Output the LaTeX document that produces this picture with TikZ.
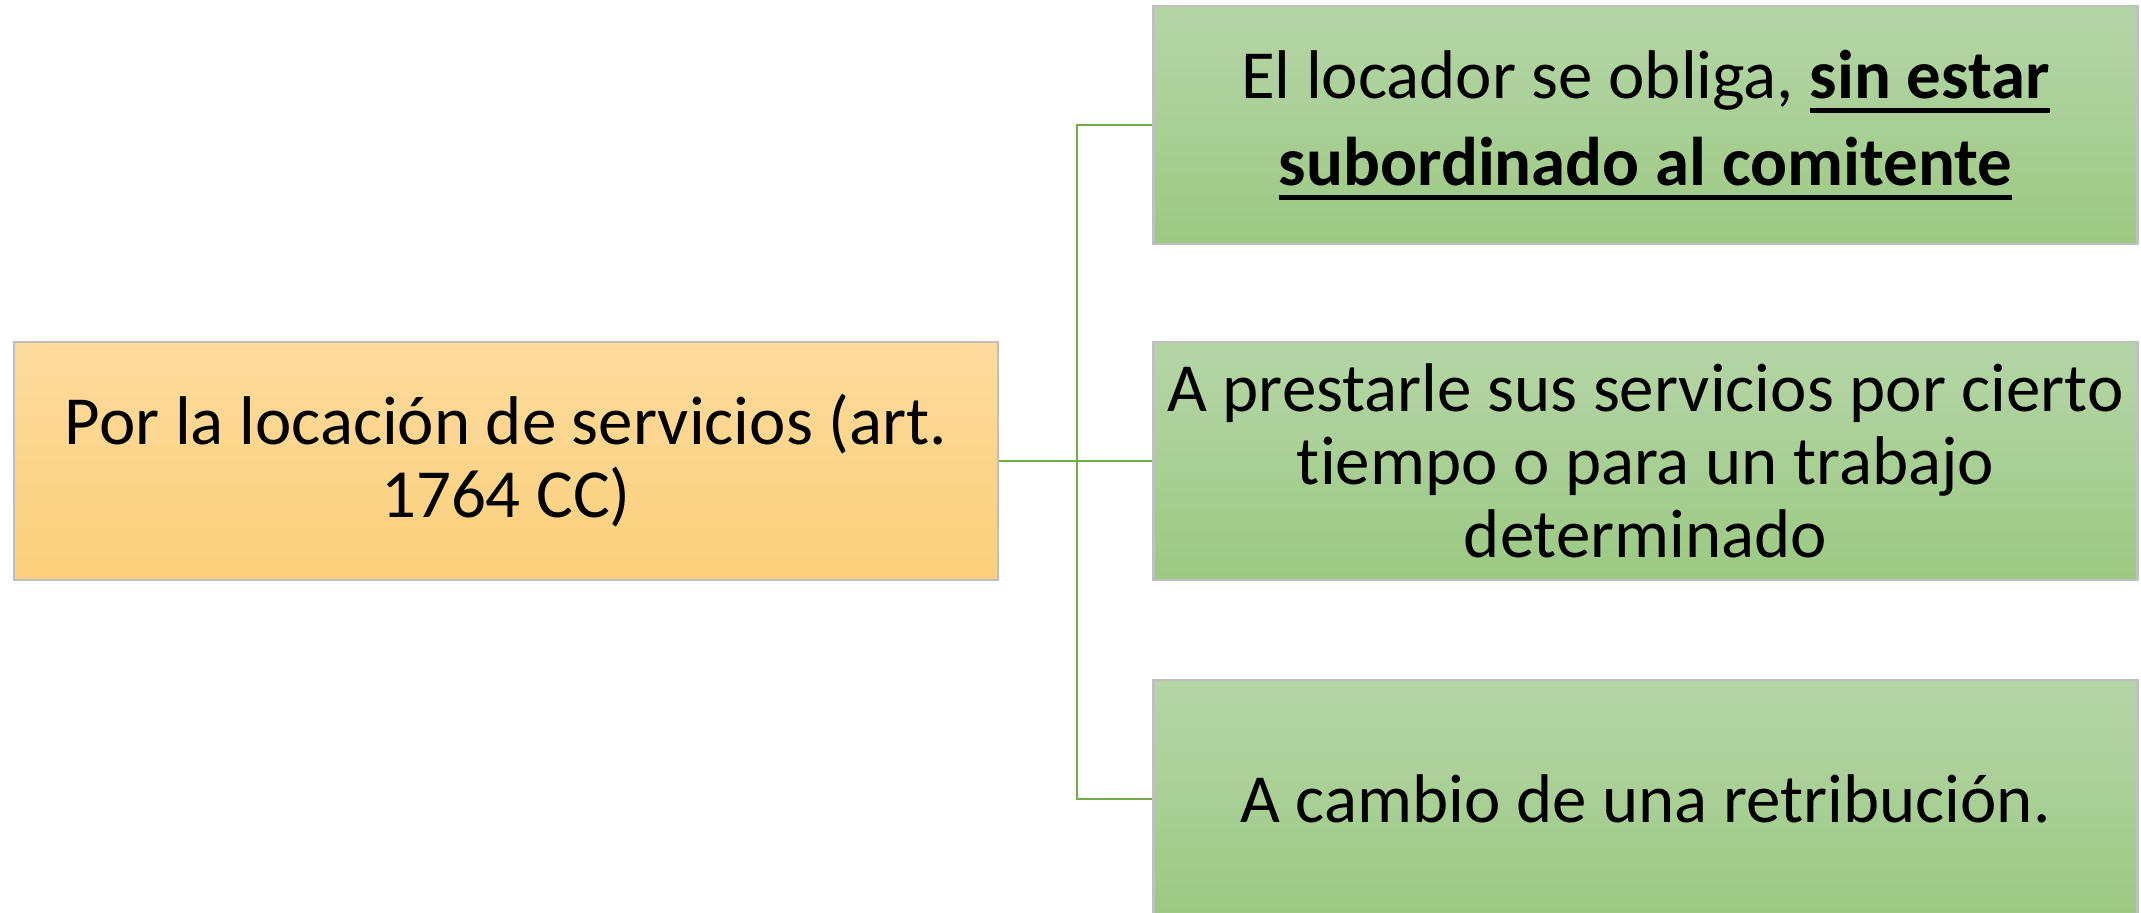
\documentclass[tikz,border=0pt]{standalone}
\usepackage{fontspec}
\setmainfont{Carlito}[Ligatures=NoCommon]
\usepackage{tikz}
\usepackage{xcolor}
\definecolor{sand}{HTML}{FDDB9D}
\definecolor{dune}{HTML}{FCD07B}
\definecolor{leaf}{HTML}{B5D5A7}
\definecolor{moss}{HTML}{9CC983}
\definecolor{stem}{HTML}{70AD47}
\definecolor{rim}{HTML}{BFBFBF}
\newcommand{\barred}[1]{\leavevmode\vtop{\hbox{#1}\kern2.6pt\hrule height 1.4pt}}

\begin{document}
\begin{tikzpicture}[
		box/.style={draw=rim, line width=0.8pt, minimum width=9.84cm, minimum height=2.38cm,
			align=center, inner sep=0pt, font=\fontsize{19.6}{20.8}\selectfont},
		trunk/.style={box, top color=sand, bottom color=dune},
		branch/.style={box, top color=leaf, bottom color=moss},
		twig/.style={draw=stem, line width=0.8pt}
	]
		\useasboundingbox (0,0) rectangle (21.41,-9.13);
		%
		\node [trunk] (root) at (5.06,-4.61) {Por la locación de servicios (art.\\1764 CC)};
		%
		\node [branch] (top) at (16.455,-1.25) {El locador se obliga, \barred{\textbf{sin estar}}\\[4pt]\barred{\textbf{subordinado al comitente}}};
		\node [branch] (mid) at (16.455,-4.61) {A prestarle sus servicios por cierto\\tiempo o para un trabajo\\determinado};
		\node [branch] (bot) at (16.455,-7.99) {A cambio de una retribución.};
		%
		\coordinate (fork) at (10.77,-4.61);
		\draw [twig] (root.east) -- (mid.west);
		\draw [twig] (fork) |- (top.west);
		\draw [twig] (fork) |- (bot.west);
	\end{tikzpicture}
\end{document}
